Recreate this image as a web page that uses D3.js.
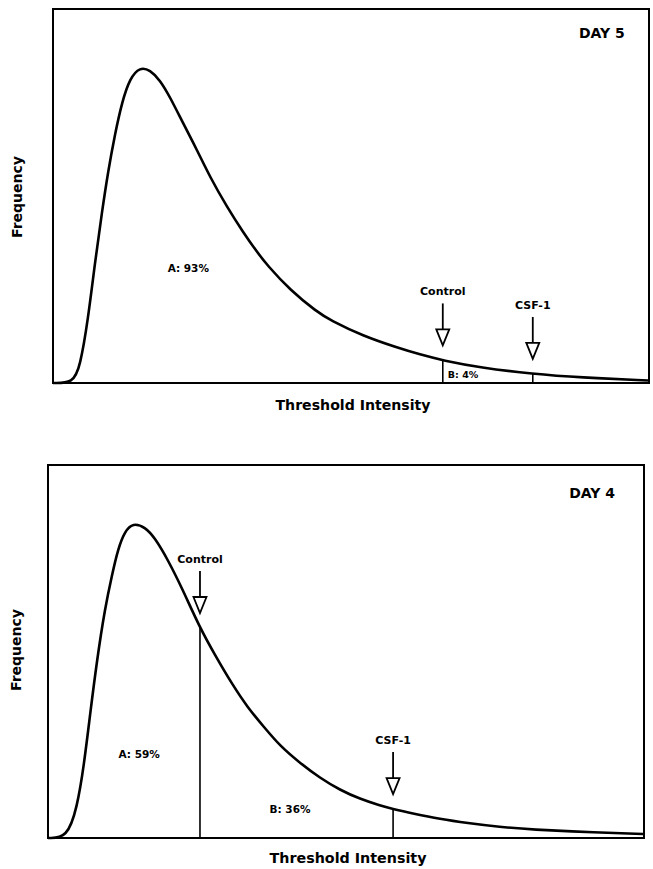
<!DOCTYPE html>
<html>
<head>
<meta charset="utf-8">
<script src="https://cdn.jsdelivr.net/npm/d3@7"></script>
<style>
  body { margin: 0; background: #fff; }
  svg { display: block; }
  text { font-family: "DejaVu Sans", sans-serif; font-weight: bold; fill: #000; }
</style>
</head>
<body>
<div id="chart"></div>
<script>
// threshold intensity (0-100) and relative frequency
const day5Intensity = [0, 3.36, 4.53, 5.87, 7.05, 8.22, 9.23, 10.40, 11.58, 12.92, 14.60, 16.28, 17.95, 19.63, 21.81, 24.16, 26.34, 29.19, 31.88, 34.23, 35.91, 39.77, 44.30, 46.48, 52.01, 57.72, 61.58, 65.44, 71.64, 80.54, 88.42, 99.83];
const day5Frequency = [0, 0, 4.28, 16.84, 32.35, 45.72, 56.42, 66.58, 75.13, 81.55, 84.49, 83.69, 81.02, 76.47, 69.52, 62.30, 55.08, 47.06, 40.37, 35.03, 31.55, 24.87, 19.00, 16.84, 12.57, 9.49, 7.62, 6.02, 4.14, 2.41, 1.47, 0.67];

const day4Intensity = [0, 3.19, 4.87, 6.04, 7.05, 8.22, 9.56, 10.74, 11.74, 12.92, 14.26, 16.28, 17.95, 20.13, 22.48, 25.50, 28.02, 30.87, 33.56, 36.24, 38.93, 42.28, 45.64, 48.99, 52.35, 55.70, 57.89, 61.24, 65.77, 70.30, 75.84, 80.87, 92.11, 99.83];
const day4Frequency = [0, 0, 8.04, 19.57, 32.98, 47.72, 61.66, 70.51, 77.48, 82.31, 84.45, 83.38, 80.43, 74.53, 67.02, 56.30, 49.06, 41.29, 34.85, 29.76, 24.66, 20.11, 16.09, 12.87, 10.46, 8.71, 7.77, 6.57, 5.09, 4.02, 2.95, 2.28, 1.47, 1.07];

const markerNames = ['Control', 'CSF-1'];
const day5MarkerIntensity = [65.4, 80.5];
const day4MarkerIntensity = [25.5, 57.9];

const day5RegionLabels = ['A: 93%', 'B: 4%'];
const day4RegionLabels = ['A: 59%', 'B: 36%'];

const width = 653, height = 869;

const svg = d3.select('#chart').append('svg')
  .attr('width', width)
  .attr('height', height);

const panels = [
  {
    title: 'DAY 5',
    intensity: day5Intensity,
    frequency: day5Frequency,
    markers: day5MarkerIntensity,
    regions: day5RegionLabels,
    box: { left: 53, right: 649, top: 9, bottom: 383 },
    titleAt: [92.1, 92.2],
    regionAt: [[22.7, 29.7], [68.8, 1.3]],
    regionSize: [10.5, 9.5],
    xTitleY: 410,
    xTitleLen: 155,
    yTitleX: 22,
    yTitleY: 197
  },
  {
    title: 'DAY 4',
    intensity: day4Intensity,
    frequency: day4Frequency,
    markers: day4MarkerIntensity,
    regions: day4RegionLabels,
    box: { left: 48, right: 644, top: 465, bottom: 838 },
    titleAt: [91.3, 91.2],
    regionAt: [[15.3, 21.4], [40.6, 6.6]],
    regionSize: [10.5, 10.5],
    xTitleY: 863,
    xTitleLen: 157,
    yTitleX: 21,
    yTitleY: 650
  }
];

panels.forEach(drawPanel);

function drawPanel(p) {
  const b = p.box;
  const x = d3.scaleLinear().domain([0, 100]).range([b.left, b.right]);
  const y = d3.scaleLinear().domain([0, 100]).range([b.bottom, b.top]);

  const points = p.intensity.map((v, i) => [v, p.frequency[i]]);

  // frequency at a given intensity, linear between read points
  const at = v => {
    const i = d3.bisector(d => d[0]).left(points, v);
    if (i <= 0) return points[0][1];
    if (i >= points.length) return points[points.length - 1][1];
    const a = points[i - 1], c = points[i];
    return a[1] + (c[1] - a[1]) * (v - a[0]) / (c[0] - a[0]);
  };

  const g = svg.append('g');

  g.append('rect')
    .attr('x', b.left)
    .attr('y', b.top)
    .attr('width', b.right - b.left)
    .attr('height', b.bottom - b.top)
    .attr('fill', 'none')
    .attr('stroke', '#000')
    .attr('stroke-width', 2);

  // basis spline smooths out the reading noise between points
  const line = d3.line()
    .x(d => x(d[0]))
    .y(d => y(d[1]))
    .curve(d3.curveBasis);

  g.append('path')
    .datum(points)
    .attr('d', line)
    .attr('fill', 'none')
    .attr('stroke', '#000')
    .attr('stroke-width', 2.6)
    .attr('stroke-linejoin', 'round');

  // dividers under the curve at each threshold
  g.selectAll('line.divider')
    .data(p.markers)
    .join('line')
    .attr('class', 'divider')
    .attr('x1', d => x(d))
    .attr('x2', d => x(d))
    .attr('y1', y(0))
    .attr('y2', d => y(at(d)))
    .attr('stroke', '#000')
    .attr('stroke-width', 1.6);

  // open arrows pointing at the threshold
  const arrows = g.selectAll('g.arrow')
    .data(p.markers)
    .join('g')
    .attr('class', 'arrow')
    .attr('transform', d => `translate(${x(d)},${y(at(d)) - 15})`);

  arrows.append('line')
    .attr('x1', 0).attr('x2', 0)
    .attr('y1', -42).attr('y2', -16)
    .attr('stroke', '#000')
    .attr('stroke-width', 1.8);

  arrows.append('path')
    .attr('d', 'M-6.5,-16 L6.5,-16 L0,0 Z')
    .attr('fill', '#fff')
    .attr('stroke', '#000')
    .attr('stroke-width', 1.8)
    .attr('stroke-linejoin', 'miter');

  arrows.append('text')
    .attr('y', -50)
    .attr('text-anchor', 'middle')
    .style('font-size', '11px')
    .text((d, i) => markerNames[i]);

  g.append('text')
    .attr('x', x(p.titleAt[0]))
    .attr('y', y(p.titleAt[1]))
    .attr('text-anchor', 'middle')
    .style('font-size', '14px')
    .text(p.title);

  g.selectAll('text.region')
    .data(p.regions)
    .join('text')
    .attr('class', 'region')
    .attr('x', (d, i) => x(p.regionAt[i][0]))
    .attr('y', (d, i) => y(p.regionAt[i][1]))
    .attr('text-anchor', 'middle')
    .style('font-size', (d, i) => p.regionSize[i] + 'px')
    .text(d => d);

  g.append('text')
    .attr('x', (b.left + b.right) / 2 + 2)
    .attr('y', p.xTitleY)
    .attr('text-anchor', 'middle')
    .attr('textLength', p.xTitleLen)
    .attr('lengthAdjust', 'spacingAndGlyphs')
    .style('font-size', '14px')
    .text('Threshold Intensity');

  g.append('text')
    .attr('transform', `translate(${p.yTitleX},${p.yTitleY}) rotate(-90)`)
    .attr('text-anchor', 'middle')
    .attr('textLength', 82)
    .attr('lengthAdjust', 'spacingAndGlyphs')
    .style('font-size', '14px')
    .text('Frequency');
}
</script>
</body>
</html>
